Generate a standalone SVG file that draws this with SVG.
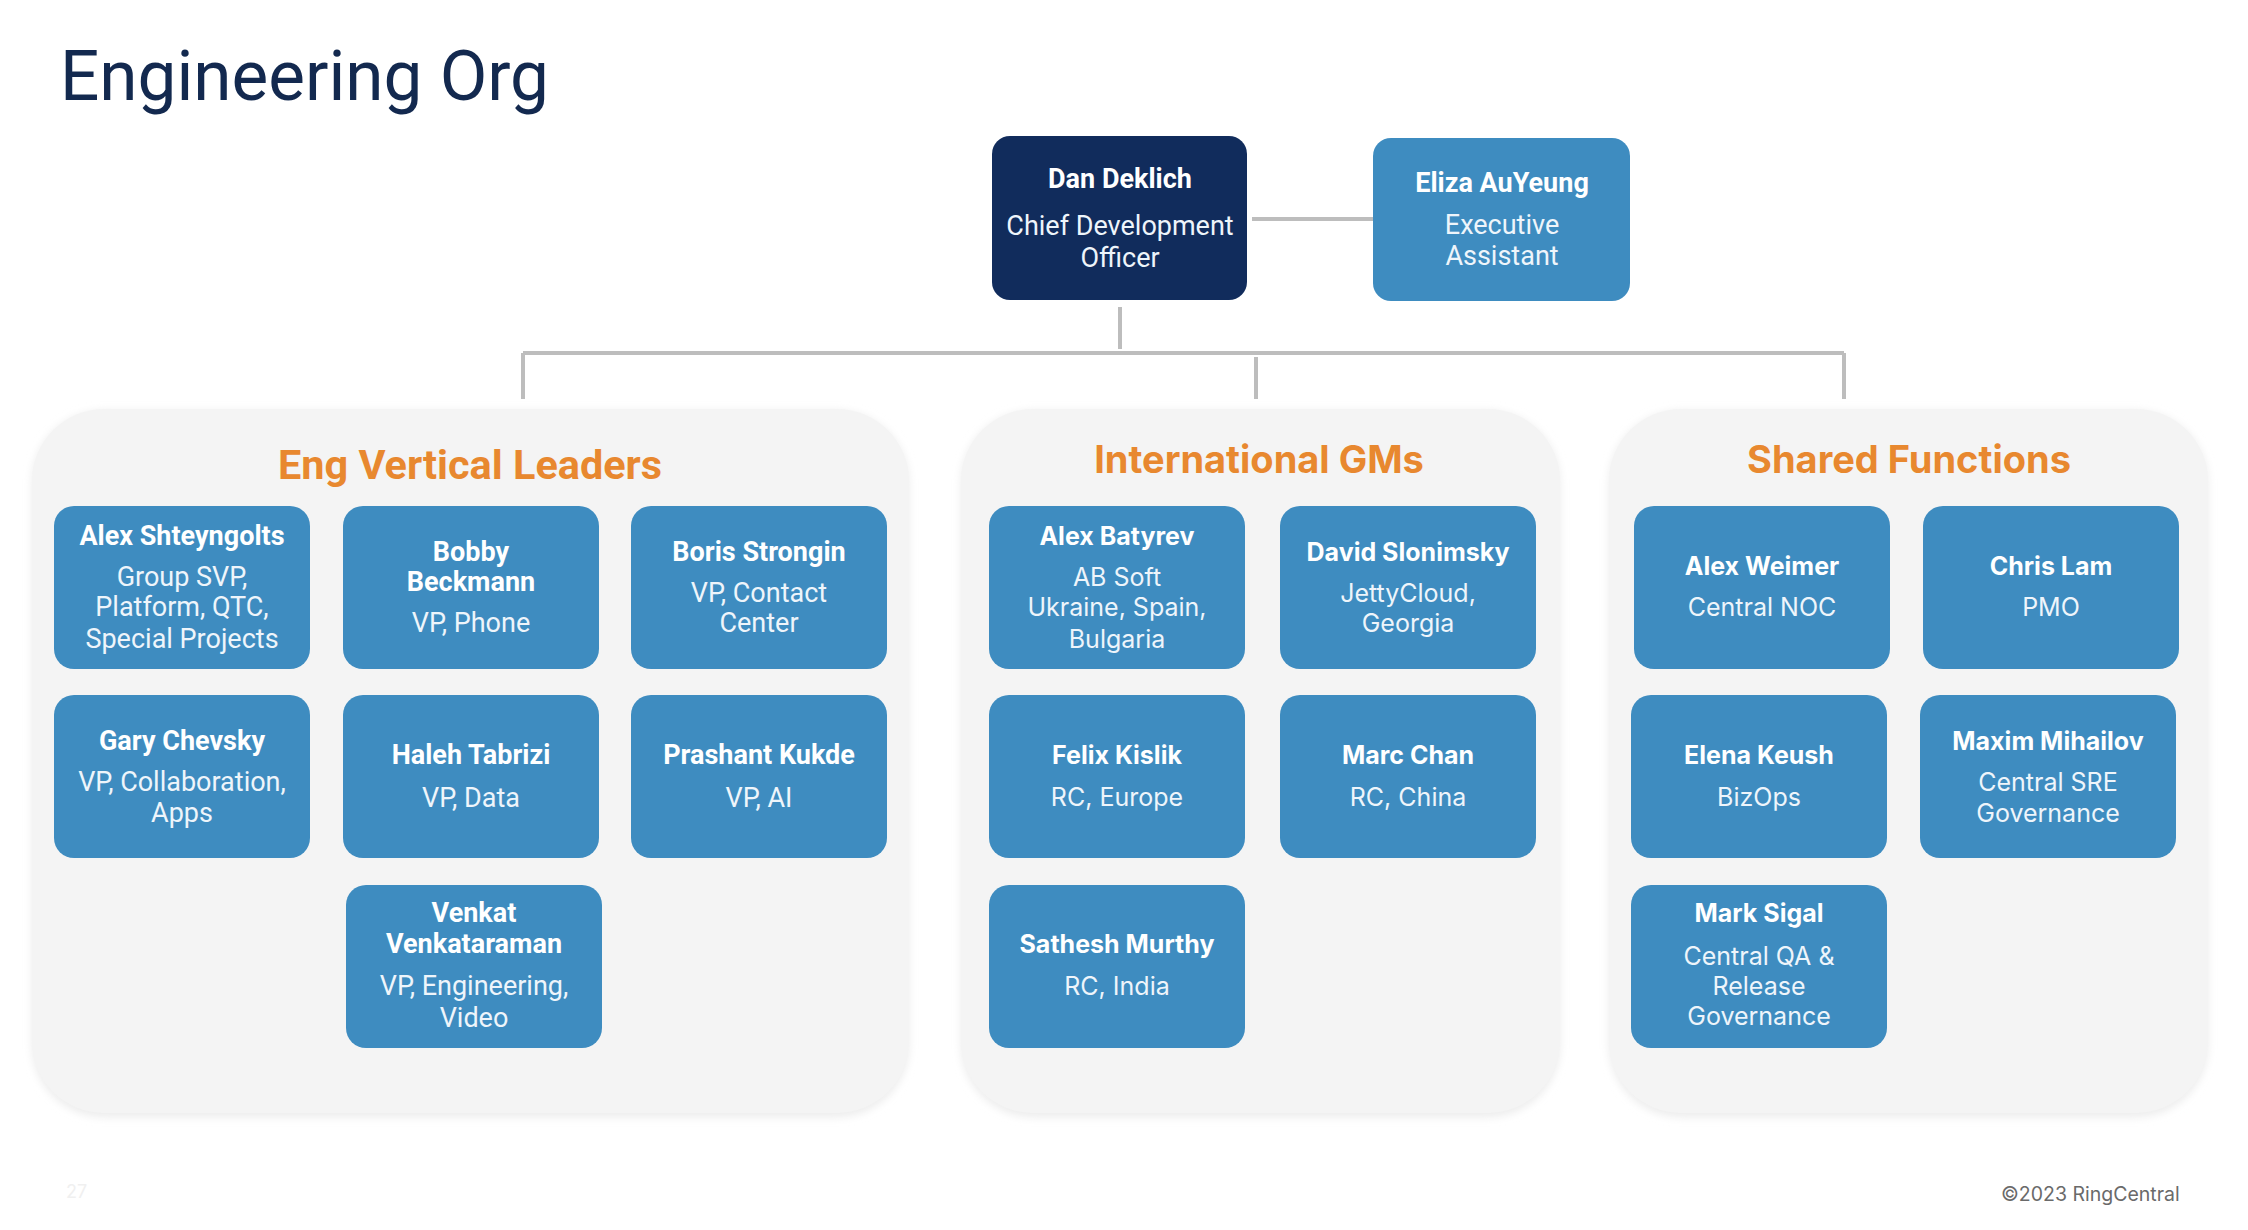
<svg xmlns="http://www.w3.org/2000/svg" width="2248" height="1230" viewBox="0 0 2248 1230">
  <defs>
    <filter id="soft" x="-5%" y="-5%" width="110%" height="110%">
      <feGaussianBlur stdDeviation="4"/>
    </filter>
  </defs>
  <style>
    .title { font-family: Roboto, "Liberation Sans", sans-serif; font-size: 71px; fill: #13294f; }
    .panel { fill: #f4f4f4; }
    .panel-shadow { fill: #ececec; filter: url(#soft); }
    .head-l { font-family: Roboto, "Liberation Sans", sans-serif; font-weight: 700; font-size: 40px; fill: #e8882f; text-anchor: middle; }
    .head { font-family: Inter, "Liberation Sans", sans-serif; font-weight: 700; font-size: 38px; fill: #e8882f; text-anchor: middle; }
    .node { fill: #3e8cc0; }
    .boss { fill: #112c5c; }
    .t { fill: #ffffff; text-anchor: middle; }
    .c .nm { font-family: Roboto, "Liberation Sans", sans-serif; font-weight: 700; font-size: 27px; }
    .c .ds { font-family: Roboto, "Liberation Sans", sans-serif; font-size: 27px; fill: #eef5fb; }
    .w .nm { font-family: Inter, "Liberation Sans", sans-serif; font-weight: 700; font-size: 25px; }
    .w .ds { font-family: Inter, "Liberation Sans", sans-serif; font-size: 25px; fill: #eef5fb; }
    .link { stroke: #bdbdbd; stroke-width: 4; fill: none; }
    .foot { font-family: Inter, "Liberation Sans", sans-serif; font-size: 19.5px; fill: #6a6a6a; }
    .pg { font-family: Inter, "Liberation Sans", sans-serif; font-size: 18px; fill: #f0f0f0; }
  </style>

  <rect width="2248" height="1230" fill="#ffffff"/>

  <text class="title" x="60" y="100" textLength="489" lengthAdjust="spacingAndGlyphs">Engineering Org</text>

  <!-- group panels -->
  <g id="panels">
    <rect class="panel-shadow" x="32" y="411" width="877" height="706" rx="72"/>
    <rect class="panel" x="32" y="409" width="877" height="704" rx="72"/>
    <rect class="panel-shadow" x="961" y="411" width="599" height="706" rx="72"/>
    <rect class="panel" x="961" y="409" width="599" height="704" rx="72"/>
    <rect class="panel-shadow" x="1609" y="411" width="599" height="706" rx="72"/>
    <rect class="panel" x="1609" y="409" width="599" height="704" rx="72"/>
    <text class="head-l" x="470" y="479" textLength="384" lengthAdjust="spacingAndGlyphs">Eng Vertical Leaders</text>
    <text class="head" x="1259" y="473">International GMs</text>
    <text class="head" x="1909" y="473">Shared Functions</text>
  </g>

  <!-- connectors -->
  <g id="connectors">
    <line class="link" x1="1252" y1="219" x2="1373" y2="219"/>
    <line class="link" x1="1120" y1="307" x2="1120" y2="349"/>
    <line class="link" x1="523" y1="353" x2="1844" y2="353"/>
    <line class="link" x1="523" y1="353" x2="523" y2="399"/>
    <line class="link" x1="1256" y1="357" x2="1256" y2="399"/>
    <line class="link" x1="1844" y1="353" x2="1844" y2="399"/>
  </g>

  <!-- top -->
  <g id="dan-deklich" class="c">
    <rect class="boss" x="992" y="136" width="255" height="164" rx="18"/>
    <text class="t nm" x="1120" y="188">Dan Deklich</text>
    <text class="t ds" x="1120" y="235">Chief Development</text>
    <text class="t ds" x="1120" y="267">Officer</text>
  </g>
  <g id="eliza-auyeung" class="c">
    <rect class="node" x="1373" y="138" width="257" height="163" rx="18"/>
    <text class="t nm" x="1502" y="192">Eliza AuYeung</text>
    <text class="t ds" x="1502" y="234">Executive</text>
    <text class="t ds" x="1502" y="265">Assistant</text>
  </g>

  <!-- Eng Vertical Leaders -->
  <g id="alex-shteyngolts" class="c">
    <rect class="node" x="54" y="506" width="256" height="163" rx="20"/>
    <text class="t nm" x="182" y="545">Alex Shteyngolts</text>
    <text class="t ds" x="182" y="586">Group SVP,</text>
    <text class="t ds" x="182" y="616">Platform, QTC,</text>
    <text class="t ds" x="182" y="648">Special Projects</text>
  </g>
  <g id="bobby-beckmann" class="c">
    <rect class="node" x="343" y="506" width="256" height="163" rx="20"/>
    <text class="t nm" x="471" y="561">Bobby</text>
    <text class="t nm" x="471" y="591">Beckmann</text>
    <text class="t ds" x="471" y="632">VP, Phone</text>
  </g>
  <g id="boris-strongin" class="c">
    <rect class="node" x="631" y="506" width="256" height="163" rx="20"/>
    <text class="t nm" x="759" y="561">Boris Strongin</text>
    <text class="t ds" x="759" y="602">VP, Contact</text>
    <text class="t ds" x="759" y="632">Center</text>
  </g>
  <g id="gary-chevsky" class="c">
    <rect class="node" x="54" y="695" width="256" height="163" rx="20"/>
    <text class="t nm" x="182" y="750">Gary Chevsky</text>
    <text class="t ds" x="182" y="791">VP, Collaboration,</text>
    <text class="t ds" x="182" y="822">Apps</text>
  </g>
  <g id="haleh-tabrizi" class="c">
    <rect class="node" x="343" y="695" width="256" height="163" rx="20"/>
    <text class="t nm" x="471" y="764">Haleh Tabrizi</text>
    <text class="t ds" x="471" y="807">VP, Data</text>
  </g>
  <g id="prashant-kukde" class="c">
    <rect class="node" x="631" y="695" width="256" height="163" rx="20"/>
    <text class="t nm" x="759" y="764">Prashant Kukde</text>
    <text class="t ds" x="759" y="807">VP, AI</text>
  </g>
  <g id="venkat-venkataraman" class="c">
    <rect class="node" x="346" y="885" width="256" height="163" rx="20"/>
    <text class="t nm" x="474" y="922">Venkat</text>
    <text class="t nm" x="474" y="953">Venkataraman</text>
    <text class="t ds" x="474" y="995">VP, Engineering,</text>
    <text class="t ds" x="474" y="1027">Video</text>
  </g>

  <!-- International GMs -->
  <g id="alex-batyrev" class="w">
    <rect class="node" x="989" y="506" width="256" height="163" rx="20"/>
    <text class="t nm" x="1117" y="545">Alex Batyrev</text>
    <text class="t ds" x="1117" y="586">AB Soft</text>
    <text class="t ds" x="1117" y="616">Ukraine, Spain,</text>
    <text class="t ds" x="1117" y="648">Bulgaria</text>
  </g>
  <g id="david-slonimsky" class="w">
    <rect class="node" x="1280" y="506" width="256" height="163" rx="20"/>
    <text class="t nm" x="1408" y="561">David Slonimsky</text>
    <text class="t ds" x="1408" y="602">JettyCloud,</text>
    <text class="t ds" x="1408" y="632">Georgia</text>
  </g>
  <g id="felix-kislik" class="w">
    <rect class="node" x="989" y="695" width="256" height="163" rx="20"/>
    <text class="t nm" x="1117" y="764">Felix Kislik</text>
    <text class="t ds" x="1117" y="806">RC, Europe</text>
  </g>
  <g id="marc-chan" class="w">
    <rect class="node" x="1280" y="695" width="256" height="163" rx="20"/>
    <text class="t nm" x="1408" y="764">Marc Chan</text>
    <text class="t ds" x="1408" y="806">RC, China</text>
  </g>
  <g id="sathesh-murthy" class="w">
    <rect class="node" x="989" y="885" width="256" height="163" rx="20"/>
    <text class="t nm" x="1117" y="953">Sathesh Murthy</text>
    <text class="t ds" x="1117" y="995">RC, India</text>
  </g>

  <!-- Shared Functions -->
  <g id="alex-weimer" class="w">
    <rect class="node" x="1634" y="506" width="256" height="163" rx="20"/>
    <text class="t nm" x="1762" y="575">Alex Weimer</text>
    <text class="t ds" x="1762" y="616">Central NOC</text>
  </g>
  <g id="chris-lam" class="w">
    <rect class="node" x="1923" y="506" width="256" height="163" rx="20"/>
    <text class="t nm" x="2051" y="575">Chris Lam</text>
    <text class="t ds" x="2051" y="616">PMO</text>
  </g>
  <g id="elena-keush" class="w">
    <rect class="node" x="1631" y="695" width="256" height="163" rx="20"/>
    <text class="t nm" x="1759" y="764">Elena Keush</text>
    <text class="t ds" x="1759" y="806">BizOps</text>
  </g>
  <g id="maxim-mihailov" class="w">
    <rect class="node" x="1920" y="695" width="256" height="163" rx="20"/>
    <text class="t nm" x="2048" y="750">Maxim Mihailov</text>
    <text class="t ds" x="2048" y="791">Central SRE</text>
    <text class="t ds" x="2048" y="822">Governance</text>
  </g>
  <g id="mark-sigal" class="w">
    <rect class="node" x="1631" y="885" width="256" height="163" rx="20"/>
    <text class="t nm" x="1759" y="922">Mark Sigal</text>
    <text class="t ds" x="1759" y="965">Central QA &amp;</text>
    <text class="t ds" x="1759" y="995">Release</text>
    <text class="t ds" x="1759" y="1025">Governance</text>
  </g>

  <text class="pg" x="66" y="1198">27</text>
  <text class="foot" x="2001" y="1201">©2023 RingCentral</text>
</svg>
